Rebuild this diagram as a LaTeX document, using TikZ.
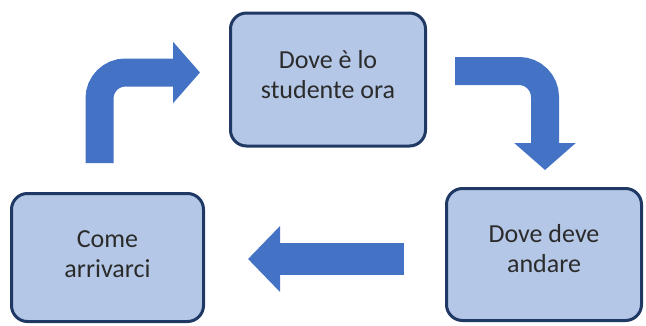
\documentclass[tikz,border=0pt]{standalone}
\usepackage{fontspec}
\setmainfont{Carlito}
\usetikzlibrary{arrows.meta}
\definecolor{boxfill}{HTML}{B4C7E7}
\definecolor{boxline}{HTML}{1F3864}
\definecolor{arrowblue}{HTML}{4472C4}
\definecolor{txt}{HTML}{2B2B2B}
\tikzset{
  stage/.style={draw=boxline, line width=3pt, fill=boxfill, rounded corners=16pt,
    align=center, text=txt, font=\fontsize{26}{30}\selectfont, inner sep=0pt},
  blockarrow/.style={draw=arrowblue, line width=28pt, rounded corners=26pt,
    -{Triangle[length=27pt, width=60pt, fill=arrowblue]}},
  wideblockarrow/.style={draw=arrowblue, line width=32pt,
    -{Triangle[length=32pt, width=64pt, fill=arrowblue]}}
}
\begin{document}
\begin{tikzpicture}[x=1pt, y=1pt]
  \useasboundingbox (0,0) rectangle (646,325);

  % the three stages of the cycle
  \node[stage, minimum width=195pt, minimum height=133pt] (now) at (328,245.5)
    {Dove è lo\\studente ora\\[-20pt]};
  \node[stage, minimum width=192pt, minimum height=128pt] (how) at (107.5,67.5)
    {Come\\arrivarci\\[-24pt]};
  \node[stage, minimum width=195pt, minimum height=132pt] (goal) at (544,70.5)
    {Dove deve\\andare\\[-18pt]};

  % free ends of the block arrows
  \coordinate (a1s) at (99.5,162);
  \coordinate (a1c) at (99.5,252.5);
  \coordinate (a1e) at (200,252.5);
  \coordinate (a2s) at (455,254);
  \coordinate (a2c) at (545,254);
  \coordinate (a2e) at (545,155);
  \coordinate (a3s) at (404,66);
  \coordinate (a3e) at (248,66);

  % bent arrow from "Come arrivarci" up to the top stage
  \draw[blockarrow] (a1s) -- (a1c) -- (a1e);
  % bent arrow from the top stage down to "Dove deve andare"
  \draw[blockarrow] (a2s) -- (a2c) -- (a2e);
  % straight arrow back to "Come arrivarci"
  \draw[wideblockarrow] (a3s) -- (a3e);
\end{tikzpicture}
\end{document}
